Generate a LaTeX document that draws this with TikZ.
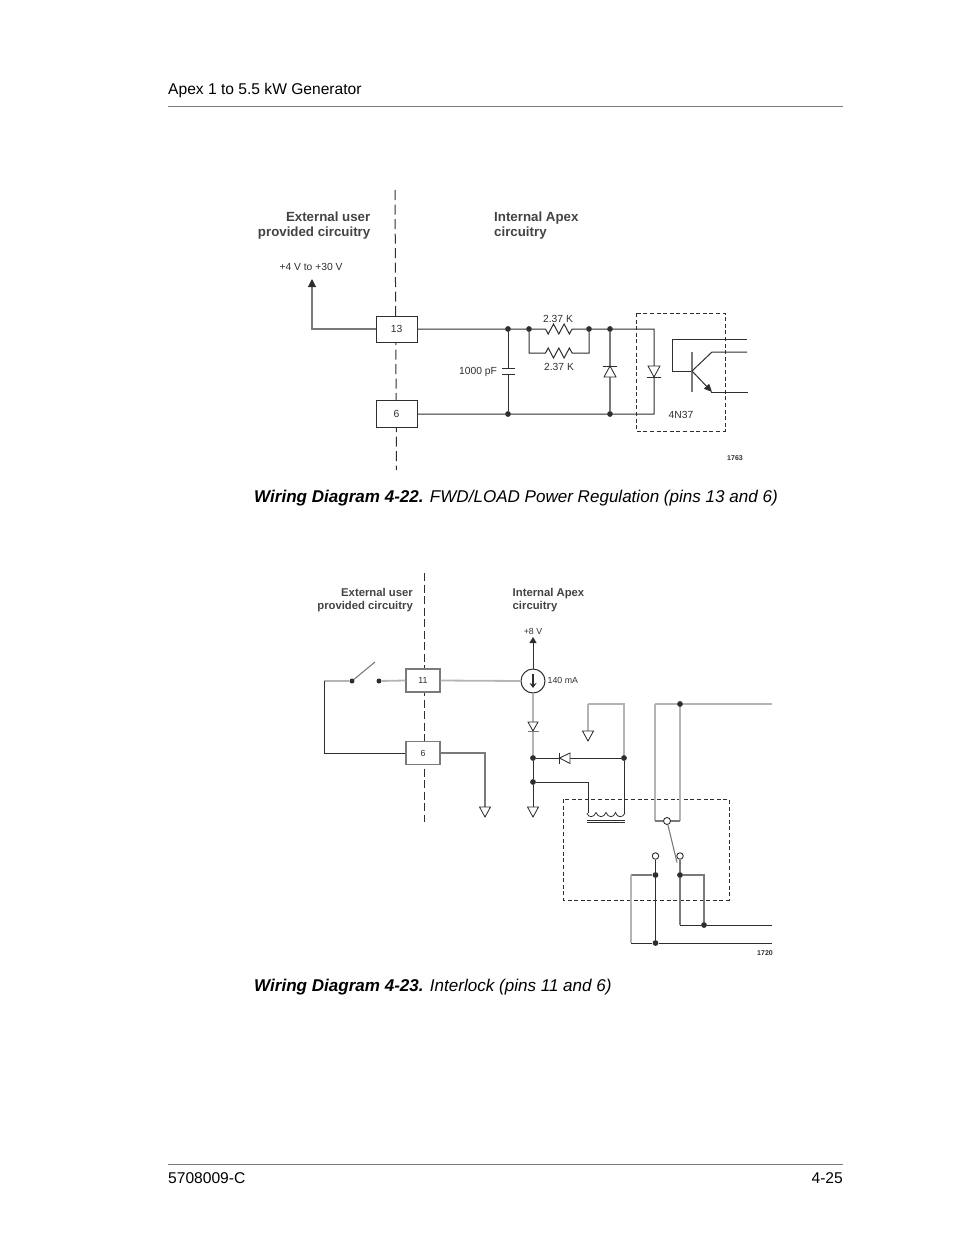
\documentclass[tikz,border=0pt]{standalone}
\usepackage{fontspec}
\setmainfont{Liberation Sans}
\usetikzlibrary{arrows.meta}
\definecolor{ink}{HTML}{2E2E2E}
\definecolor{pale}{HTML}{B4B4B4}
\definecolor{midg}{HTML}{7A7A7A}
\tikzset{
  wire/.style={draw=ink,line width=1pt},
  palewire/.style={draw=pale,line width=1.8pt},
  midwire/.style={draw=midg,line width=1.1pt},
  divider/.style={draw=ink,line width=1pt,dash pattern=on 10pt off 4.5pt},
  housing/.style={draw=ink,line width=1pt,dash pattern=on 4pt off 2.6pt},
  pinbox/.style={draw=ink,fill=white,line width=1pt,minimum width=41pt,minimum height=26pt,inner sep=0pt,font=\fontsize{10.3}{12}\selectfont,text=ink},
  pinboxs/.style={draw=midg,fill=white,line width=1.1pt,minimum width=34pt,minimum height=23pt,inner sep=0pt,font=\fontsize{8.8}{10}\selectfont,text=ink},
  dot/.style={circle,fill=ink,draw=none,minimum size=5.8pt,inner sep=0pt},
  opencontact/.style={circle,fill=white,draw=ink,line width=0.9pt,minimum size=7pt,inner sep=0pt},
  head/.style={font=\fontsize{13.3}{15.5}\selectfont\bfseries,text=ink!90,inner sep=0pt},
  heads/.style={font=\fontsize{11.3}{13}\selectfont\bfseries,text=ink!90,inner sep=0pt},
  lab/.style={font=\fontsize{10.3}{12}\selectfont,text=ink,inner sep=0pt},
  labs/.style={font=\fontsize{8.8}{10}\selectfont,text=ink,inner sep=0pt},
  fig/.style={font=\fontsize{7}{8}\selectfont\bfseries,text=ink,inner sep=0pt},
  page/.style={font=\fontsize{15.6}{18}\selectfont,text=black,inner sep=0pt},
  caption/.style={font=\fontsize{17.05}{20}\selectfont\itshape,text=black,inner sep=0pt},
  arrowup/.style={-{Triangle[length=8pt,width=8pt,color=ink]}},
  symb/.style={draw=ink,line width=0.85pt,fill=white},
}
\newcommand{\gnd}[1]{\draw[symb,line join=miter] (#1) ++(-5.5,0) -- ++(11,0) -- ++(-5.5,10) -- cycle;}
\begin{document}
\begin{tikzpicture}[x=1pt,y=-1pt]
\useasboundingbox (0,0) rectangle (954,1235);
% page furniture
\node[page,anchor=base west] (hdr) at (168,94) {Apex 1 to 5.5 kW Generator};
\coordinate (rt1) at (168,106); \coordinate (rt2) at (843,106);
\draw[draw=midg,line width=0.8pt] (rt1) -- (rt2);
\coordinate (rb1) at (168,1164); \coordinate (rb2) at (843,1164);
\draw[draw=midg,line width=0.8pt] (rb1) -- (rb2);
\node[page,anchor=base west] (ftl) at (168,1183) {5708009-C};
\node[page,anchor=base east] (ftr) at (843,1183) {4-25};
\node[caption,anchor=base west] (cap1) at (254,502.5) {\textbf{Wiring Diagram 4-22.} FWD/LOAD Power Regulation (pins 13 and 6)};
\node[caption,anchor=base west] (cap2) at (254,991.5) {\textbf{Wiring Diagram 4-23.} Interlock (pins 11 and 6)};

% ===== Diagram 4-22 =====
\coordinate (da) at (395,190); \coordinate (db) at (396.5,470);
\draw[divider] (da) -- (db);
\node[head,align=right,anchor=east] (ext1) at (370.5,225.5) {External user\\provided circuitry};
\node[head,align=left,anchor=west] (int1) at (494,225.5) {Internal Apex\\circuitry};
\node[lab] (v30) at (311,266.5) {+4 V to +30 V};
\node[pinbox] (p13) at (396.5,329) {13};
\node[pinbox,minimum height=27pt] (p6a) at (396.5,414) {6};
\coordinate (tip) at (312,279); \coordinate (cnr) at (312,329);
\draw[midwire,arrowup] (p13.west) -- (cnr) -- (tip);
\node[dot] (j1) at (508,329) {};
\node[dot] (j2) at (529,329) {};
\node[dot] (j3) at (589,329) {};
\node[dot] (j4) at (610,329) {};
\node[dot] (j5) at (508,414) {};
\node[dot] (j6) at (610,414) {};
\coordinate (dr) at (654,329); \coordinate (dr2) at (654,414);
\draw[wire] (p13.east) -- (j1) -- (j2) -- ++(14,0) -- ++(2.5,0)
  -- ++(2.7,5) -- ++(5.3,-10) -- ++(5.3,10) -- ++(5.3,-10) -- ++(5.3,10) -- ++(2.7,-5) -- ++(2.5,0) -- (j3) -- (j4) -- (dr) -- (dr2) -- (j6) -- (j5) -- (p6a.east);
\coordinate (r2l) at (529,353); \coordinate (r2r) at (589,353);
\draw[wire] (j2) -- (r2l) -- ++(14,0) -- ++(2.5,0)
  -- ++(2.7,-5) -- ++(5.3,10) -- ++(5.3,-10) -- ++(5.3,10) -- ++(5.3,-10) -- ++(2.7,5) -- ++(2.5,0) -- (r2r) -- (j3);
\node[lab] (r1t) at (558,318.5) {2.37 K};
\node[lab] (r2t) at (559,366.5) {2.37 K};
\node[lab] (cval) at (478,371.5) {1000 pF};
\coordinate (c1) at (508,368); \coordinate (c2) at (508,374);
\draw[wire] (j1) -- (c1); \draw[wire] (c2) -- (j5);
\draw[wire] (502,368) -- (515,368); \draw[wire] (502,374) -- (515,374);
\draw[midwire] (j4) -- (j6);
\draw[symb] (610,366) -- (604,377) -- (616,377) -- cycle;
\draw[symb] (603,366) -- (617,366);
\draw[symb] (648,366) -- (660,366) -- (654,377) -- cycle;
\draw[symb] (647,377) -- (661,377);
\draw[housing] (636,313) rectangle (725,431);
\coordinate (bb) at (692,371);
\draw[wire] (747,339) -- (672,339) -- (672,371) -- (bb);
\draw[midwire] (692,352) -- (692,392);
\draw[wire] (bb) -- (712,352) -- (747,352);
\draw[wire,-{Triangle[length=8pt,width=7pt]}] (bb) -- (712,392);
\draw[wire] (711,392) -- (748,392);
\node[lab] (opto) at (681,414.5) {4N37};
\node[fig] (f1) at (735,458) {1763};

% ===== Diagram 4-23 =====
\coordinate (dc) at (424,573); \coordinate (dd) at (424,822);
\draw[divider,line width=0.9pt,dash pattern=on 8pt off 3.5pt] (dc) -- (dd);
\node[heads,align=right,anchor=east] (ext2) at (413,600.5) {External user\\provided circuitry};
\node[heads,align=left,anchor=west] (int2) at (512.5,600.5) {Internal Apex\\circuitry};
\node[pinboxs] (p11) at (423,680.5) {11};
\node[pinboxs] (p6b) at (423,753) {6};
\node[dot,minimum size=5pt] (sw1) at (352,681) {};
\node[dot,minimum size=5pt] (sw2) at (379,681) {};
\coordinate (sw3) at (375,662);
\coordinate (lc) at (324,681); \coordinate (ld) at (324,753);
\draw[midwire] (sw1) -- (sw3);
\draw[palewire] (lc) -- (sw1);
\draw[palewire] (sw2) -- (p11.west);
\draw[wire] (lc) -- (ld) -- (p6b.west);
\coordinate (g1c) at (485,753); \coordinate (g1) at (485,807);
\draw[midwire] (p6b.east) -- (g1c) -- (g1);
\gnd{g1}
\node[circle,draw=ink,fill=white,line width=1pt,minimum size=24pt,inner sep=0pt] (src) at (533,681) {};
\draw[palewire] (p11.east) -- (src.west);
\coordinate (v8) at (533,637);
\draw[wire,-{Triangle[length=6pt,width=7pt]}] (src.north) -- (v8);
\draw[wire,line width=1.3pt,-{Stealth[length=5pt,width=7pt]}] (533,674) -- (533,688);
\node[labs] (v8t) at (533,631) {+8 V};
\node[labs,anchor=west] (ma) at (547.5,680.5) {140 mA};
\node[dot] (k1) at (533,758) {};
\node[dot] (k2) at (533,782) {};
\node[dot] (k3) at (624,758) {};
\coordinate (g2) at (533,807);
\draw[palewire] (src.south) -- (k1);
\draw[wire] (k1) -- (k2) -- (g2);
\gnd{g2}
\draw[symb] (528,722) -- (538,722) -- (533,731) -- cycle;
\draw[symb,draw=midg] (527.5,731) -- (538.5,731);
% flyback diode
\draw[wire] (k1) -- (k3);
\draw[symb] (559.5,758) -- (570,753) -- (570,763.5) -- cycle;
\draw[symb] (559.5,752.5) -- (559.5,763.5);
% return to ground
\coordinate (g3a) at (624,704); \coordinate (g3b) at (588,704); \coordinate (g3) at (588,731);
\draw[palewire] (k3) -- (g3a) -- (g3b);
\draw[palewire,line width=1.2pt] (g3b) -- (g3);
\gnd{g3}
% coil
\coordinate (cl) at (588,813); \coordinate (cr) at (624,813);
\draw[wire] (k2) -- (588,782) -- (cl);
\draw[wire] (k3) -- (cr);
\draw[wire,line width=0.8pt] (587,813) .. controls (588,818) and (594,818) .. (596,812.5)
  .. controls (598,818) and (604,818) .. (606,812.5)
  .. controls (608,818) and (614,818) .. (615.5,812.5)
  .. controls (617,818) and (623,818) .. (625,813);
\draw[wire] (587,820) -- (624.5,820); \draw[wire] (587,822.5) -- (624.5,822.5);
\draw[housing] (563,799) rectangle (729,900);
% contacts
\node[opencontact] (com) at (667,821) {};
\node[opencontact,minimum size=6.5pt] (nc) at (655.5,856) {};
\node[opencontact,minimum size=6.5pt] (no) at (680,856) {};
\coordinate (swt) at (677,862.5);
\draw[midwire] (com) -- (swt);
\node[dot] (t1) at (680,704) {};
\coordinate (t0) at (655,704); \coordinate (t2) at (772,704);
\coordinate (t3) at (655,821); \coordinate (t4) at (680,821);
\draw[draw=pale,line width=1.2pt] (t3) -- (t0);
\draw[palewire] (t0) -- (t1) -- (t2);
\draw[draw=pale,line width=1.2pt] (t1) -- (t4);
\draw[midwire] (t3) -- (com.west); \draw[midwire] (t4) -- (com.east);
\node[dot] (m1) at (655.5,875) {};
\node[dot] (m2) at (680,875) {};
\node[dot] (m3) at (655.5,943) {};
\node[dot] (m4) at (704,925) {};
\coordinate (n1) at (631,875); \coordinate (n2) at (631,943); \coordinate (n3) at (772,943);
\coordinate (n4) at (704,875); \coordinate (n5) at (680,925); \coordinate (n6) at (772,925);
\draw[wire] (nc) -- (m1) -- (m3);
\draw[midwire] (m1) -- (n1);
\draw[palewire,line width=1.4pt] (n1) -- (n2);
\draw[wire] (n2) -- (m3) -- (n3);
\draw[midwire] (no) -- (m2) -- (n5);
\draw[wire] (n5) -- (m4) -- (n6);
\draw[midwire] (m2) -- (n4) -- (m4);
\node[fig] (f2) at (765,953.5) {1720};
\end{tikzpicture}
\end{document}
